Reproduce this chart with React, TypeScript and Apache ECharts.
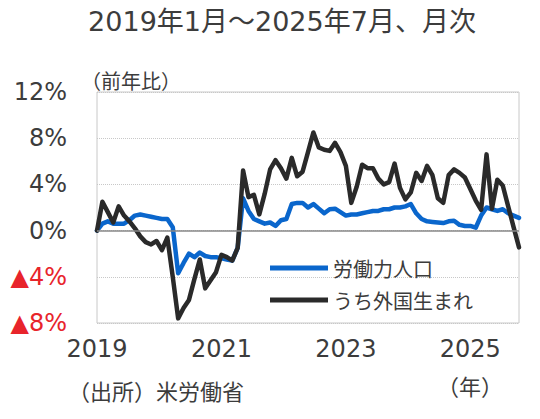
import React, { useEffect, useRef } from 'react';
import * as echarts from 'echarts';

// Monthly categories 2019-01 .. 2025-07
const months: string[] = [];
for (let y = 2019; y <= 2025; y++) {
  for (let m = 1; m <= 12; m++) {
    if (y === 2025 && m > 7) break;
    months.push(`${y}/${m}`);
  }
}

const xTickIndex = [0, 23, 46, 69];
const xTickText = ['2019', '2021', '2023', '2025'];

// 労働力人口 (前年比, %)
const laborForce = [
  0.0, 0.6, 0.8, 0.6, 0.6, 0.6, 0.9, 1.3, 1.4, 1.3, 1.2, 1.1,
  1.0, 1.0, 0.3, -3.7, -2.8, -2.0, -2.3, -1.9, -2.2, -2.3, -2.3, -2.4,
  -2.5, -2.6, -1.5, 2.8, 1.7, 1.0, 0.8, 0.6, 0.7, 0.4, 0.9, 1.0,
  2.3, 2.4, 2.4, 2.0, 2.3, 1.9, 1.5, 1.85, 1.9, 1.6, 1.3, 1.4,
  1.4, 1.5, 1.6, 1.7, 1.7, 1.85, 1.85, 2.0, 2.0, 2.1, 2.3, 1.5,
  1.0, 0.8, 0.75, 0.7, 0.65, 0.8, 0.85, 0.5, 0.4, 0.4, 0.25, 1.3,
  2.0, 1.85, 1.7, 1.85, 1.5, 1.3, 1.1,
];

// うち外国生まれ (前年比, %)
const foreignBorn = [
  0.0, 2.5, 1.6, 0.7, 2.1, 1.3, 0.8, 0.2, -0.5, -1.0, -1.2, -0.9,
  -1.7, -0.6, -4.0, -7.6, -6.7, -6.0, -4.2, -2.5, -5.0, -4.3, -3.6, -2.1,
  -2.3, -2.6, -1.5, 5.2, 2.9, 3.1, 1.4, 3.2, 5.3, 6.1, 5.4, 4.5,
  6.3, 4.7, 5.1, 6.8, 8.5, 7.2, 7.0, 6.9, 7.6, 6.8, 5.6, 2.4,
  3.8, 5.7, 5.4, 5.4, 4.5, 4.0, 4.2, 5.8, 3.7, 2.7, 3.3, 5.0,
  4.3, 5.6, 4.8, 2.8, 2.4, 4.8, 5.3, 5.0, 4.6, 3.6, 2.6, 1.8,
  6.6, 1.9, 4.4, 3.9, 2.1, 0.3, -1.45,
];

const seriesNames = ['労働力人口', 'うち外国生まれ'];
const yMin = -8;
const yMax = 12;
const yStep = 4;

const LATIN = '"DejaVu Sans", "Noto Sans CJK JP", sans-serif';
const CJK = '"Noto Sans CJK JP", sans-serif';
const TEXT = '#3c3c3c';

export default function App() {
  const ref = useRef<HTMLDivElement>(null);

  useEffect(() => {
    if (!ref.current) return;
    const chart = echarts.init(ref.current, undefined, { renderer: 'svg' });
    chart.setOption({
      animation: false,
      backgroundColor: '#ffffff',
      grid: { left: 97, right: 21, top: 92, bottom: 96, show: true, borderColor: '#c8c8c8', borderWidth: 1 },
      legend: {
        data: seriesNames,
        orient: 'vertical',
        left: 265,
        top: 252,
        icon: 'rect',
        itemWidth: 58,
        itemHeight: 5,
        itemGap: 10,
        textStyle: { fontSize: 20, fontFamily: CJK, color: TEXT, lineHeight: 22 },
      },
      xAxis: {
        type: 'category',
        data: months,
        boundaryGap: false,
        axisLine: { show: false },
        axisTick: { show: false },
        splitLine: { show: false },
        axisLabel: {
          interval: (idx: number) => xTickIndex.includes(idx),
          formatter: (_v: string, idx: number) => {
            const k = xTickIndex.indexOf(idx);
            return k >= 0 ? xTickText[k] : '';
          },
          fontSize: 24,
          fontFamily: LATIN,
          color: TEXT,
          margin: 14,
        },
      },
      yAxis: {
        type: 'value',
        min: yMin,
        max: yMax,
        interval: yStep,
        axisLine: { show: false },
        axisTick: { show: false },
        splitLine: { show: true, lineStyle: { color: '#c8c8c8', type: 'dotted', width: 1 } },
        axisLabel: {
          margin: 30,
          fontSize: 24,
          fontFamily: LATIN,
          padding: [6, 0, 0, 0],
          color: (v: any) => (Number(v) < 0 ? '#e8242b' : TEXT),
          formatter: (v: number) => (v < 0 ? `▲${-v}%` : `${v}%`),
        },
      },
      series: [
        {
          name: 'zero',
          type: 'line',
          data: [],
          z: 1,
          silent: true,
          markLine: {
            silent: true,
            symbol: 'none',
            label: { show: false },
            lineStyle: { color: '#888888', type: 'solid', width: 1.5 },
            data: [{ yAxis: 0 }],
          },
        },
        {
          name: seriesNames[0],
          type: 'line',
          data: laborForce,
          symbol: 'none',
          z: 3,
          lineStyle: { color: '#0a66cc', width: 4.5, cap: 'round', join: 'round' },
          itemStyle: { color: '#0a66cc' },
        },
        {
          name: seriesNames[1],
          type: 'line',
          data: foreignBorn,
          symbol: 'none',
          z: 4,
          lineStyle: { color: '#2a2a2a', width: 4.5, cap: 'round', join: 'round' },
          itemStyle: { color: '#2a2a2a' },
        },
      ],
      graphic: [
        {
          type: 'text',
          x: 282,
          y: 21,
          style: { text: '2019年1月～2025年7月、月次', fontSize: 27, fontFamily: LATIN, fill: TEXT, textAlign: 'center', textVerticalAlign: 'middle' },
        },
        {
          type: 'text',
          x: 131,
          y: 80,
          style: { text: '（前年比）', fontSize: 20, fontFamily: CJK, fill: TEXT, textAlign: 'center', textVerticalAlign: 'middle' },
        },
        {
          type: 'text',
          x: 68,
          y: 390,
          style: { text: '（出所）米労働省', fontSize: 22, fontFamily: CJK, fill: TEXT, textAlign: 'left', textVerticalAlign: 'middle' },
        },
        {
          type: 'text',
          x: 470,
          y: 385,
          style: { text: '（年）', fontSize: 22, fontFamily: CJK, fill: TEXT, textAlign: 'center', textVerticalAlign: 'middle' },
        },
      ],
    });
    return () => chart.dispose();
  }, []);

  return <div ref={ref} style={{ position: 'fixed', left: 0, top: 0, width: 540, height: 419, background: '#fff' }} />;
}
